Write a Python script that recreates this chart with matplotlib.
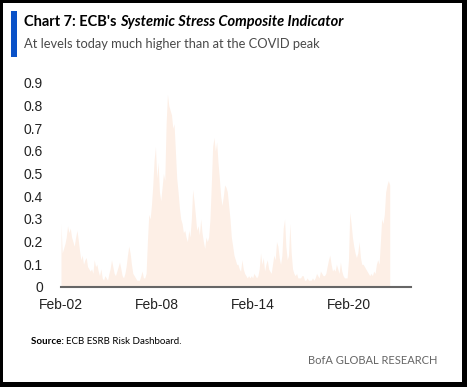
import numpy as np
import pandas as pd
import matplotlib
matplotlib.use("Agg")
import matplotlib.pyplot as plt
import matplotlib.dates as mdates
from matplotlib.patches import Rectangle

# Valores mensais (Fev-2002 a Set-2022)
v2002 = [0.28, 0.15, 0.17, 0.19, 0.22, 0.27, 0.24, 0.26, 0.22, 0.20, 0.18]
v2003 = [0.22, 0.25, 0.21, 0.16, 0.12, 0.14, 0.10, 0.12, 0.13, 0.09, 0.08, 0.07]
v2004 = [0.08, 0.06, 0.12, 0.09, 0.10, 0.07, 0.05, 0.08, 0.04, 0.03, 0.05, 0.04]
v2005 = [0.03, 0.06, 0.08, 0.12, 0.09, 0.06, 0.05, 0.07, 0.09, 0.11, 0.08, 0.05]
v2006 = [0.04, 0.06, 0.09, 0.14, 0.18, 0.15, 0.10, 0.06, 0.05, 0.04, 0.03, 0.03]
v2007 = [0.03, 0.05, 0.07, 0.04, 0.04, 0.06, 0.20, 0.32, 0.30, 0.36, 0.45, 0.56]
v2008 = [0.62, 0.48, 0.55, 0.42, 0.38, 0.44, 0.50, 0.47, 0.72, 0.85, 0.80, 0.78]
v2009 = [0.76, 0.70, 0.72, 0.60, 0.48, 0.42, 0.35, 0.30, 0.28, 0.24, 0.25, 0.22]
v2010 = [0.20, 0.25, 0.22, 0.30, 0.43, 0.38, 0.32, 0.25, 0.27, 0.23, 0.30, 0.24]
v2011 = [0.20, 0.17, 0.22, 0.20, 0.22, 0.30, 0.45, 0.62, 0.66, 0.60, 0.64, 0.55]
v2012 = [0.48, 0.40, 0.36, 0.40, 0.45, 0.44, 0.42, 0.36, 0.30, 0.22, 0.18, 0.14]
v2013 = [0.12, 0.10, 0.10, 0.08, 0.07, 0.12, 0.08, 0.06, 0.05, 0.04, 0.05, 0.04]
v2014 = [0.05, 0.04, 0.06, 0.05, 0.04, 0.05, 0.08, 0.15, 0.10, 0.13, 0.07, 0.10]
v2015 = [0.12, 0.08, 0.07, 0.06, 0.10, 0.14, 0.12, 0.20, 0.18, 0.13, 0.10, 0.14]
v2016 = [0.26, 0.30, 0.18, 0.12, 0.14, 0.28, 0.15, 0.08, 0.06, 0.05, 0.06, 0.04]
v2017 = [0.04, 0.04, 0.05, 0.05, 0.03, 0.03, 0.04, 0.03, 0.03, 0.03, 0.04, 0.03]
v2018 = [0.04, 0.06, 0.05, 0.04, 0.07, 0.06, 0.05, 0.05, 0.06, 0.09, 0.12, 0.14]
v2019 = [0.10, 0.07, 0.08, 0.07, 0.10, 0.08, 0.06, 0.11, 0.07, 0.05, 0.04, 0.04]
v2020 = [0.04, 0.12, 0.33, 0.28, 0.22, 0.18, 0.15, 0.13, 0.15, 0.20, 0.13, 0.10]
v2021 = [0.10, 0.09, 0.08, 0.07, 0.06, 0.05, 0.06, 0.05, 0.07, 0.06, 0.10, 0.12]
v2022 = [0.10, 0.20, 0.30, 0.28, 0.32, 0.42, 0.45, 0.47, 0.45]

valores = (v2002 + v2003 + v2004 + v2005 + v2006 + v2007 + v2008 + v2009 + v2010
           + v2011 + v2012 + v2013 + v2014 + v2015 + v2016 + v2017 + v2018
           + v2019 + v2020 + v2021 + v2022)
datas = pd.date_range("2002-02-01", periods=len(valores), freq="MS")

ticks_x = ["2002-02-01", "2008-02-01", "2014-02-01", "2020-02-01"]
ticks_y = [0, 0.1, 0.2, 0.3, 0.4, 0.5, 0.6, 0.7, 0.8, 0.9]

W, H = 467, 387
fig = plt.figure(figsize=(W / 100, H / 100), dpi=100)
fig.patch.set_facecolor("black")
renderer = fig.canvas.get_renderer()


def px(x, y):
    return x / W, 1 - y / H


def texto_seguido(x, y, partes):
    # escreve pedaços de texto lado a lado, cada um com o seu estilo
    for s, kw in partes:
        t = fig.text(*px(x, y), s, va="center", ha="left", **kw)
        x += t.get_window_extent(renderer).width


# painel branco com moldura preta
fig.add_artist(Rectangle(px(3, 382), 459 / W, 379 / H, transform=fig.transFigure,
                         facecolor="white", edgecolor="none", zorder=0))
# barra azul do título
fig.add_artist(Rectangle(px(11, 57), 6 / W, 46 / H, transform=fig.transFigure,
                         facecolor="#0a52c8", edgecolor="none", zorder=1))

texto_seguido(24, 22, [
    ("Chart 7: ECB's ", dict(fontsize=10.5, fontweight="bold", family="Lato")),
    ("Systemic Stress Composite Indicator",
     dict(fontsize=10.5, fontweight="bold", style="italic", family="Lato")),
])
fig.text(*px(24, 44), "At levels today much higher than at the COVID peak",
         fontsize=9.3, color="#4a4a4a", family="Lato", va="center", ha="left")

ax = fig.add_axes([61 / W, 1 - 287 / H, 350 / W, 204 / H])
ax.patch.set_alpha(0)
ax.fill_between(datas, 0, valores, color="#fdefe6", linewidth=0)

ax.set_ylim(0, 0.9)
ax.set_xlim(pd.Timestamp("2002-02-01"), pd.Timestamp("2024-01-01"))
ax.set_yticks(ticks_y)
ax.set_yticklabels(["0"] + [f"{t:.1f}" for t in ticks_y[1:]])
ax.set_xticks([mdates.date2num(pd.Timestamp(t)) for t in ticks_x])
ax.xaxis.set_major_formatter(mdates.DateFormatter("%b-%y"))

for s in ["top", "right", "left"]:
    ax.spines[s].set_visible(False)
ax.spines["bottom"].set_color("#666666")
ax.spines["bottom"].set_linewidth(1.5)
ax.tick_params(axis="both", length=0, labelsize=10, colors="#222222",
               labelfontfamily="Liberation Sans")
ax.tick_params(axis="y", pad=13)
ax.tick_params(axis="x", pad=8)

texto_seguido(31, 341, [
    ("Source: ", dict(fontsize=7, fontweight="bold", family="Lato")),
    ("ECB ESRB Risk Dashboard.", dict(fontsize=7, family="Lato")),
])
fig.text(*px(437, 361), "BofA GLOBAL RESEARCH", fontsize=8,
         color="#666666", family="Lato", va="center", ha="right")

fig.savefig("out.png", dpi=100, facecolor=fig.get_facecolor())
